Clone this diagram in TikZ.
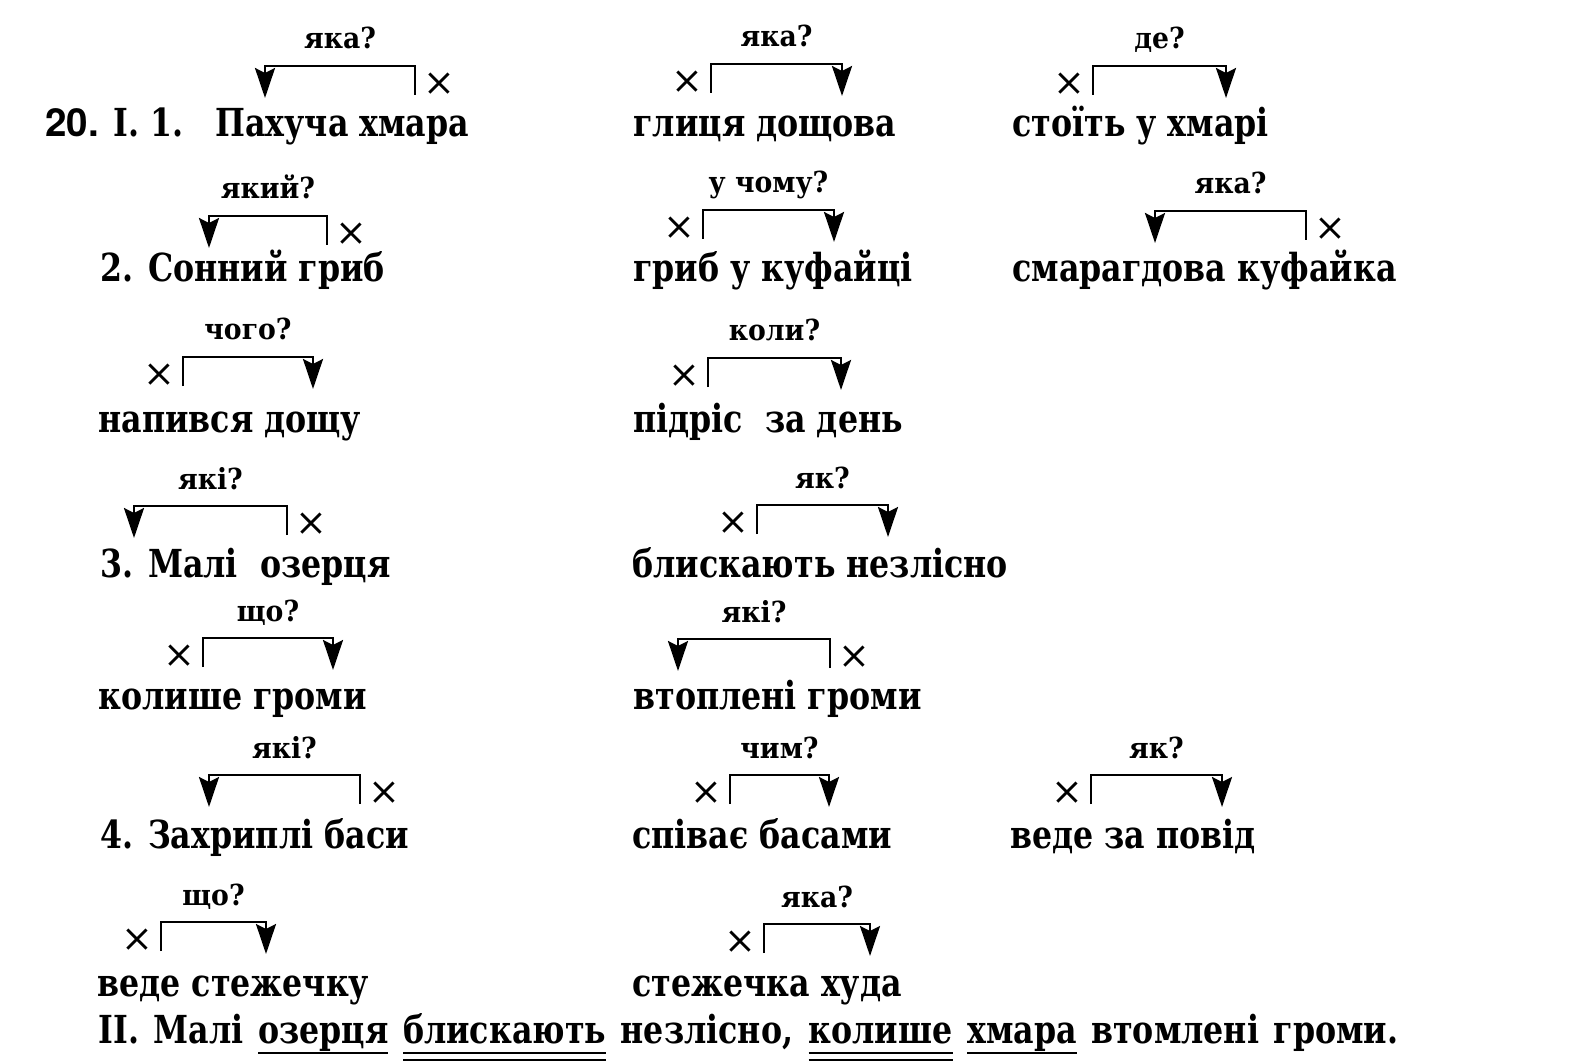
\documentclass[tikz,border=0pt]{standalone}
\usepackage{fontspec}
\setmainfont{DejaVu Serif}[FakeStretch=0.82]
\newfontfamily\AskFont{DejaVu Serif}[FakeStretch=0.92]
\newfontfamily\CrossFont{DejaVu Serif}
\newfontfamily\NumFont{TeX Gyre Heros}
\usetikzlibrary{arrows.meta}

% subject and predicate underlines
\newcommand{\OneLine}[1]{\setbox0=\hbox{#1}\rlap{\rule[-5.5pt]{\wd0}{1.2pt}}#1}
\newcommand{\TwoLine}[1]{\setbox0=\hbox{#1}\rlap{\rule[-5.5pt]{\wd0}{1.2pt}}\rlap{\rule[-9pt]{\wd0}{1pt}}#1}

% question bracket: name, tail x, head x, top y, question
\newcommand{\Ask}[5]{%
  \coordinate (t#1) at (#2,#4+29);
  \coordinate (h#1) at (#3,#4+32);
  \pgfmathsetmacro{\CrossX}{#3<#2 ? #2+24 : #2-24}
  \node[CrossStyle] (x#1) at (\CrossX,#4+18) {×};
  \draw[LinkStyle] (t#1) |- node[QuestStyle, pos=0.75] {#5} (h#1 |- 0,#4) -- (h#1);}

\begin{document}
\begin{tikzpicture}[x=0.5pt, y=-0.5pt]
    \tikzset{WordStyle/.style = {anchor=base west, inner sep=0pt,
        font=\fontsize{19.3}{22}\selectfont\bfseries},
      QuestStyle/.style = {anchor=base, inner sep=0pt, yshift=8.5pt,
        font=\AskFont\fontsize{14.5}{16}\selectfont\bfseries},
      CrossStyle/.style = {inner sep=0pt, font=\CrossFont\fontsize{19}{20}\selectfont},
      LinkStyle/.style = {line width=1.3pt, -{Stealth[length=15pt, width=10pt, inset=2.5pt]}}}
    \useasboundingbox (0,0) rectangle (1569,1064);
    % words
    \node[WordStyle] (num) at (45,137) {{\NumFont 20.} І. 1.};
    \node[WordStyle] (r1a) at (215,137) {Пахуча хмара};
    \node[WordStyle] (r1b) at (633,137) {глиця дощова};
    \node[WordStyle] (r1c) at (1012,137) {стоїть у хмарі};
    \node[WordStyle] (r2a) at (100,282) {2. Сонний гриб};
    \node[WordStyle] (r2b) at (633,282) {гриб у куфайці};
    \node[WordStyle] (r2c) at (1012,282) {смарагдова куфайка};
    \node[WordStyle] (r3a) at (98,432) {напився дощу};
    \node[WordStyle] (r3b) at (633,432) {підріс\ \ за день};
    \node[WordStyle] (r4a) at (100,577) {3. Малі\ \ озерця};
    \node[WordStyle] (r4b) at (632,577) {блискають незлісно};
    \node[WordStyle] (r5a) at (98,709) {колише громи};
    \node[WordStyle] (r5b) at (633,709) {втоплені громи};
    \node[WordStyle] (r6a) at (100,848) {4. Захриплі баси};
    \node[WordStyle] (r6b) at (632,848) {співає басами};
    \node[WordStyle] (r6c) at (1010,848) {веде за повід};
    \node[WordStyle] (r7a) at (97,996) {веде стежечку};
    \node[WordStyle] (r7b) at (632,996) {стежечка худа};
    \node[WordStyle] (r8) at (98,1043) {\hbox to 650pt{ІІ. Малі \OneLine{озерця} \TwoLine{блискають} незлісно, \TwoLine{колише} \OneLine{хмара} втомлені громи.}};
    % brackets
    \Ask{1}{415}{265}{66}{яка?}
    \Ask{2}{711}{842}{64}{яка?}
    \Ask{3}{1093}{1226}{66}{де?}
    \Ask{4}{327}{209}{216}{який?}
    \Ask{5}{703}{834}{210}{у чому?}
    \Ask{6}{1306}{1155}{211}{яка?}
    \Ask{7}{183}{313}{357}{чого?}
    \Ask{8}{708}{841}{358}{коли?}
    \Ask{9}{287}{134}{506}{які?}
    \Ask{10}{757}{888}{505}{як?}
    \Ask{11}{203}{333}{638}{що?}
    \Ask{12}{830}{678}{639}{які?}
    \Ask{13}{360}{209}{775}{які?}
    \Ask{14}{730}{829}{775}{чим?}
    \Ask{15}{1091}{1222}{775}{як?}
    \Ask{16}{161}{266}{922}{що?}
    \Ask{17}{764}{870}{924}{яка?}
\end{tikzpicture}
\end{document}
